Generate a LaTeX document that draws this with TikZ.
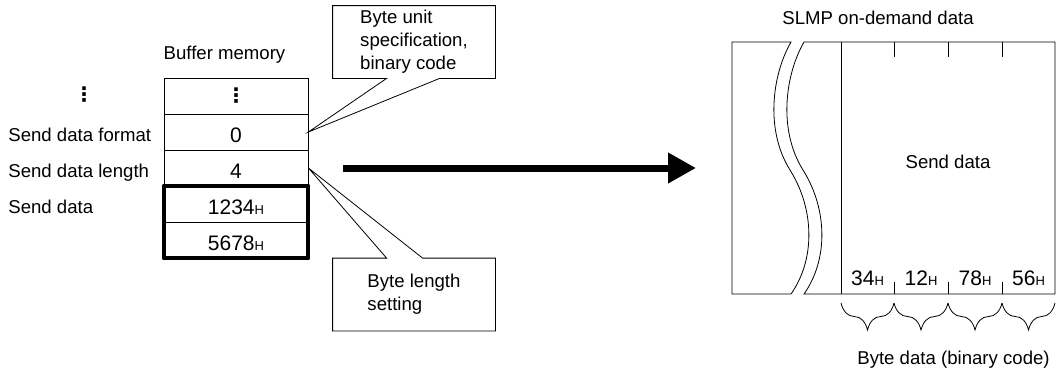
\documentclass[tikz,border=0pt]{standalone}
\usepackage{fontspec}
\setmainfont{Liberation Sans}
\newfontfamily\dejavu{DejaVu Sans}
\usetikzlibrary{arrows.meta,calc,decorations.pathreplacing}
\newcommand{\hx}{{\fontsize{13}{13}\selectfont H}}

\begin{document}
\begin{tikzpicture}[
  x=1pt,y=-1pt,
  font=\fontsize{18.6}{23}\selectfont,
  line width=.8pt,
  cell/.style={draw,minimum width=144pt,minimum height=36pt,inner sep=0pt,
    font=\fontsize{21}{23}\selectfont,text height=20pt,text depth=0pt},
  rowlabel/.style={anchor=base west,inner sep=0pt},
  caption/.style={anchor=base,inner sep=0pt},
  bytelabel/.style={anchor=base,inner sep=0pt,font=\fontsize{21}{23}\selectfont},
  dotsmark/.style={inner sep=0pt,font=\dejavu\bfseries\fontsize{20}{23}\selectfont},
  callout/.style={minimum width=162pt,minimum height=72pt,inner sep=0pt,align=left},
  bytebrace/.style={decorate,decoration={brace,mirror,amplitude=27pt}},
  bigarrow/.style={line width=7pt,-{Triangle[length=28pt,width=29pt]}}
]
\useasboundingbox (0,0) rectangle (1056,372);

% Buffer memory table
\node[caption] (bufmem) at (224.5,59.7) {Buffer memory};
\node[cell] (c1) at (236,96) {};
\node[cell] (c2) at (236,132) {0};
\node[cell] (c3) at (236,168) {4};
\node[cell] (c4) at (236,204) {1234\hx};
\node[cell] (c5) at (236,240) {5678\hx};
\draw[line width=4pt,line join=round] (c4.north west) rectangle (c5.south east);
\node[dotsmark] (cdots) at (c1.center) {⋮};

\node[dotsmark] (ldots) at (84,95) {⋮};
\node[rowlabel] (lfmt) at (8,141.7) {Send data format};
\node[rowlabel] (llen) at (8,177.7) {Send data length};
\node[rowlabel] (ldat) at (8,213.7) {Send data};

% Callouts
\node[callout] (cbunit) at (414,42) {Byte unit\\specification,\\binary code};
\draw (cbunit.south west) -- ++(54,0) -- (c2.east) -- ($(cbunit.south west)+(107,0)$)
  -- (cbunit.south east) -- (cbunit.north east) -- (cbunit.north west) -- cycle;
\node[callout] (cblen) at (414,294.5) {Byte length\\setting};
\draw (cblen.north west) -- ++(54,0) -- (c3.east) -- ($(cblen.north west)+(90,0)$)
  -- (cblen.north east) -- (cblen.south east) -- (cblen.south west) -- cycle;

% Transfer arrow
\coordinate (arrS) at (343,168);
\coordinate (arrE) at (696,168);
\draw[bigarrow] (arrS) -- (arrE);

% SLMP on-demand data frame with break
\node[caption] (slmp) at (878,24.7) {SLMP on-demand data};
\draw (791,42) -- (732,42) -- (732,294) -- (791,294)
  .. controls (815,260) and (815,210) .. (790,170)
  .. controls (765,130) and (772,75) .. (791,42) -- cycle;
\draw (804,42) .. controls (785,75) and (778,130) .. (803,170)
  .. controls (828,210) and (828,260) .. (804,294)
  -- (1055,294) -- (1055,42) -- cycle;
\draw (841,42) -- (841,294);
\foreach \x in {894,948,1002} {
  \draw (\x,42) -- (\x,57);
  \draw (\x,294) -- (\x,282);
}
\node[caption] (sendd) at (948,168.7) {Send data};
\foreach \v/\x [count=\i] in {34/867.5,12/921,78/975,56/1028.5}
  \node[bytelabel] (b\i) at (\x,285.5) {\v\hx};

% Byte braces
\foreach \a/\b in {841/894,894/948,948/1002,1002/1055}
  \draw[bytebrace] (\a,303) -- (\b,303);
\node[caption] (bytedata) at (953.5,364.5) {Byte data (binary code)};
\end{tikzpicture}
\end{document}
